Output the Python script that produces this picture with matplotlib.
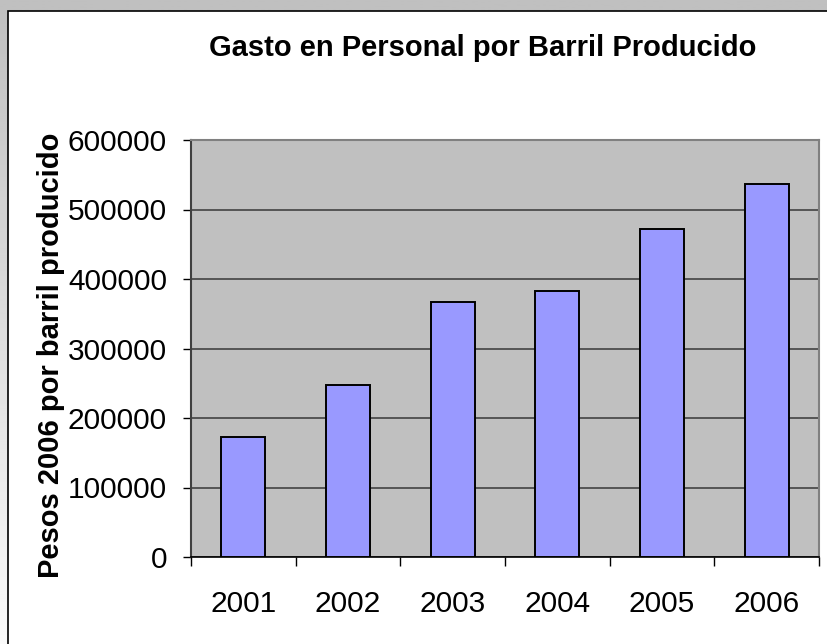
import matplotlib
matplotlib.use('Agg')
import matplotlib.pyplot as plt
import numpy as np
from matplotlib.patches import Rectangle

# datos del grafico
years = ['2001', '2002', '2003', '2004', '2005', '2006']
gasto = [173000, 247000, 367000, 383000, 472000, 537000]
y_ticks = [0, 100000, 200000, 300000, 400000, 500000, 600000]

title = 'Gasto en Personal por Barril Producido'
y_label = 'Pesos 2006 por barril producido'

plt.rcParams['font.family'] = ['Liberation Sans', 'DejaVu Sans']

W, H = 828, 644
PX = 72 / 100  # puntos por pixel a dpi 100
fig = plt.figure(figsize=(W / 100, H / 100), dpi=100)

# fondo gris con degradado y area blanca del grafico
bg = fig.add_axes([0, 0, 1, 1])
bg.set_xlim(0, W)
bg.set_ylim(H, 0)
bg.axis('off')
grad = np.linspace(0.75, 0.98, 256).reshape(-1, 1)
bg.imshow(grad, cmap='gray', vmin=0, vmax=1, extent=[0, W, H, 0], aspect='auto')
bg.add_patch(Rectangle((8, 11), W, H, facecolor='white', edgecolor='black', lw=1.2))

# area de trazado
ax = fig.add_axes([191 / W, 1 - 557 / H, (819 - 191) / W, (557 - 140) / H])
ax.set_facecolor('#c0c0c0')

x = np.arange(len(years)) + 0.5
ax.bar(x, gasto, width=0.42, color='#9999ff', edgecolor='black', linewidth=1.4, zorder=3)

ax.set_xlim(0, len(years))
ax.set_ylim(0, 600000)
ax.set_yticks(y_ticks)
ax.set_yticklabels([str(v) for v in y_ticks], fontsize=21.5)
ax.yaxis.grid(True, color='#555555', linewidth=1.4, zorder=1)
ax.set_axisbelow(True)

# ticks en los limites de categoria, etiquetas en el centro
ax.set_xticks(np.arange(len(years) + 1))
ax.set_xticklabels([])
ax.set_xticks(x, minor=True)
ax.set_xticklabels(years, minor=True, fontsize=21.5)
ax.tick_params(axis='x', which='major', length=9 * PX, width=1, color='black', direction='out')
ax.tick_params(axis='x', which='minor', length=0, pad=33 * PX)
ax.tick_params(axis='y', length=8 * PX, width=1, color='black', direction='out', pad=16 * PX)

for s in ['top', 'right']:
    ax.spines[s].set_color('#808080')
    ax.spines[s].set_linewidth(1.5)
ax.spines['left'].set_color('#404040')
ax.spines['left'].set_linewidth(1.5)
ax.spines['bottom'].set_color('black')
ax.spines['bottom'].set_linewidth(1.2)

ax.set_ylabel(y_label, fontsize=21, fontweight='bold')
ax.yaxis.set_label_coords(-(191 - 51) / (819 - 191), (557 - 355) / (557 - 140))
ax.yaxis.label.set_va('center')
fig.text(482.5 / W, 1 - 48 / H, title, ha='center', va='center',
         fontsize=21, fontweight='bold')

fig.savefig('out.png', dpi=100)
